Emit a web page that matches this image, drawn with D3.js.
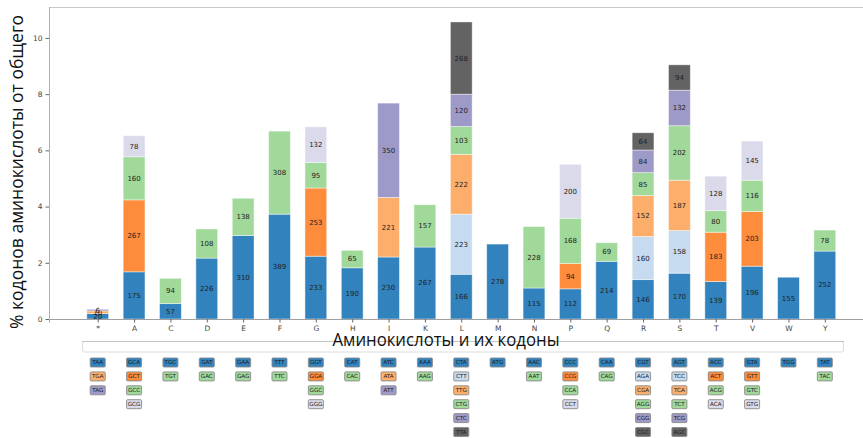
<!DOCTYPE html>
<html><head><meta charset="utf-8">
<script src="https://cdn.jsdelivr.net/npm/d3@7"></script>
<style>body{margin:0;background:#fff}svg{display:block}</style>
</head><body>
<svg id="c" width="863" height="438"></svg>
<script>
const aminoAcids = ["*","A","C","D","E","F","G","H","I","K","L","M","N","P","Q","R","S","T","V","W","Y"];
const codons = [
  ["TAA","TGA","TAG"],
  ["GCA","GCT","GCC","GCG"],
  ["TGC","TGT"],
  ["GAT","GAC"],
  ["GAA","GAG"],
  ["TTT","TTC"],
  ["GGT","GGA","GGC","GGG"],
  ["CAT","CAC"],
  ["ATC","ATA","ATT"],
  ["AAA","AAG"],
  ["CTA","CTT","TTG","CTG","CTC","TTA"],
  ["ATG"],
  ["AAC","AAT"],
  ["CCC","CCG","CCA","CCT"],
  ["CAA","CAG"],
  ["CGT","AGA","CGA","AGG","CGG","CGC"],
  ["AGT","TCC","TCA","TCT","TCG","AGC"],
  ["ACC","ACT","ACG","ACA"],
  ["GTA","GTT","GTC","GTG"],
  ["TGG"],
  ["TAT","TAC"]
];
const counts = [
  [20,10,6],
  [175,267,160,78],
  [57,94],
  [226,108],
  [310,138],
  [389,308],
  [233,253,95,132],
  [190,65],
  [230,221,350],
  [267,157],
  [166,223,222,103,120,268],
  [278],
  [115,228],
  [112,94,168,200],
  [214,69],
  [146,160,152,85,84,64],
  [170,158,187,202,132,94],
  [139,183,80,128],
  [196,203,116,145],
  [155],
  [252,78]
];
const yTicks = [0,2,4,6,8,10];
const yLabel = "% кодонов аминокислоты от общего";
const xLabel = "Аминокислоты и их кодоны";

// palette by number of synonymous codons
const palettes = {
  1: ["#3182bd"],
  2: ["#3182bd","#a1d99b"],
  3: ["#3182bd","#fdae6b","#9e9ac8"],
  4: ["#3182bd","#fd8d3c","#a1d99b","#dadaeb"],
  6: ["#3182bd","#c6dbef","#fdae6b","#a1d99b","#9e9ac8","#636363"]
};

const total = d3.sum(counts.flat());
const svg = d3.select("#c");
const L = 49, T = 7, R = 863, B = 319;

const x = d3.scaleLinear().domain([-1.34, 21.05]).range([L, R]);
const y = d3.scaleLinear().domain([0, 11.1]).range([B, T]);
const bw = 21.8;

// spines
svg.append("line").attr("x1",L).attr("x2",R).attr("y1",T+0.5).attr("y2",T+0.5).attr("stroke","#c8c8c8").attr("stroke-width",1);
svg.append("line").attr("x1",L+0.5).attr("x2",L+0.5).attr("y1",T).attr("y2",B).attr("stroke","#b0b0b0").attr("stroke-width",1);

// bars
aminoAcids.forEach((aa, i) => {
  const vals = counts[i];
  const pal = palettes[vals.length];
  let cum = 0;
  vals.forEach((v, j) => {
    const p0 = cum / total * 100;
    cum += v;
    const p1 = cum / total * 100;
    const g = svg.append("g");
    g.append("rect")
      .attr("x", x(i) - bw/2).attr("width", bw)
      .attr("y", y(p1)).attr("height", y(p0) - y(p1))
      .attr("fill", pal[j])
      .attr("stroke", "rgba(255,255,255,0.55)").attr("stroke-width", 0.8);
    g.append("text")
      .attr("x", x(i)).attr("y", (y(p0)+y(p1))/2)
      .attr("dy","0.35em").attr("text-anchor","middle")
      .attr("font-family","DejaVu Sans, sans-serif").attr("font-size",7)
      .attr("fill","#222").text(v);
  });
});

// axes
const yAxis = d3.axisLeft(y).tickValues(yTicks).tickSize(3.5).tickPadding(3);
const gy = svg.append("g").attr("transform",`translate(${L},0)`).call(yAxis);
gy.select(".domain").remove();
const xAxis = d3.axisBottom(x).tickValues(d3.range(aminoAcids.length)).tickFormat(i => aminoAcids[i]).tickSize(3.5).tickPadding(3);
const gx = svg.append("g").attr("transform",`translate(0,${B})`).call(xAxis);
gx.select(".domain").attr("stroke","#a0a0a0");
[gx, gy].forEach(g => {
  g.selectAll(".tick line").attr("stroke","#666");
  g.selectAll(".tick text").attr("font-family","DejaVu Sans, sans-serif").attr("font-size",7.5).attr("fill","#444");
});

// y label
svg.append("text")
  .attr("transform","translate(23,172) rotate(-90)")
  .attr("text-anchor","middle")
  .attr("font-family","Open Sans, sans-serif").attr("font-size",19)
  .attr("textLength",314).attr("lengthAdjust","spacingAndGlyphs")
  .attr("fill","#111").text(yLabel);

// table frame
svg.append("rect").attr("x",82.5).attr("y",341.5).attr("width",761).attr("height",10.5)
  .attr("rx",2).attr("fill","none").attr("stroke","#dcdcdc").attr("stroke-width",1);
svg.append("line").attr("x1",82).attr("x2",844).attr("y1",341.5).attr("y2",341.5).attr("stroke","#c4c4c4");

// x label
svg.append("text")
  .attr("x",446).attr("y",346)
  .attr("text-anchor","middle")
  .attr("font-family","Open Sans, sans-serif").attr("font-size",18)
  .attr("textLength",227).attr("lengthAdjust","spacingAndGlyphs")
  .attr("fill","#111").text(xLabel);

// codon boxes
const rowY = d3.scaleLinear().domain([0,1]).range([362.5, 376.4]);
aminoAcids.forEach((aa, i) => {
  const pal = palettes[codons[i].length];
  codons[i].forEach((c, j) => {
    const cy = rowY(j);
    svg.append("rect")
      .attr("x", x(i) - 7.5).attr("y", cy - 4.5).attr("width", 15).attr("height", 9)
      .attr("rx", 1).attr("fill", pal[j]).attr("stroke","#8a8a8a").attr("stroke-width",0.9);
    svg.append("text")
      .attr("x", x(i)).attr("y", cy).attr("dy","0.35em")
      .attr("text-anchor","middle")
      .attr("font-family","DejaVu Sans, sans-serif").attr("font-size",5.6)
      .attr("fill","#222").text(c);
  });
});
</script>
</body></html>
